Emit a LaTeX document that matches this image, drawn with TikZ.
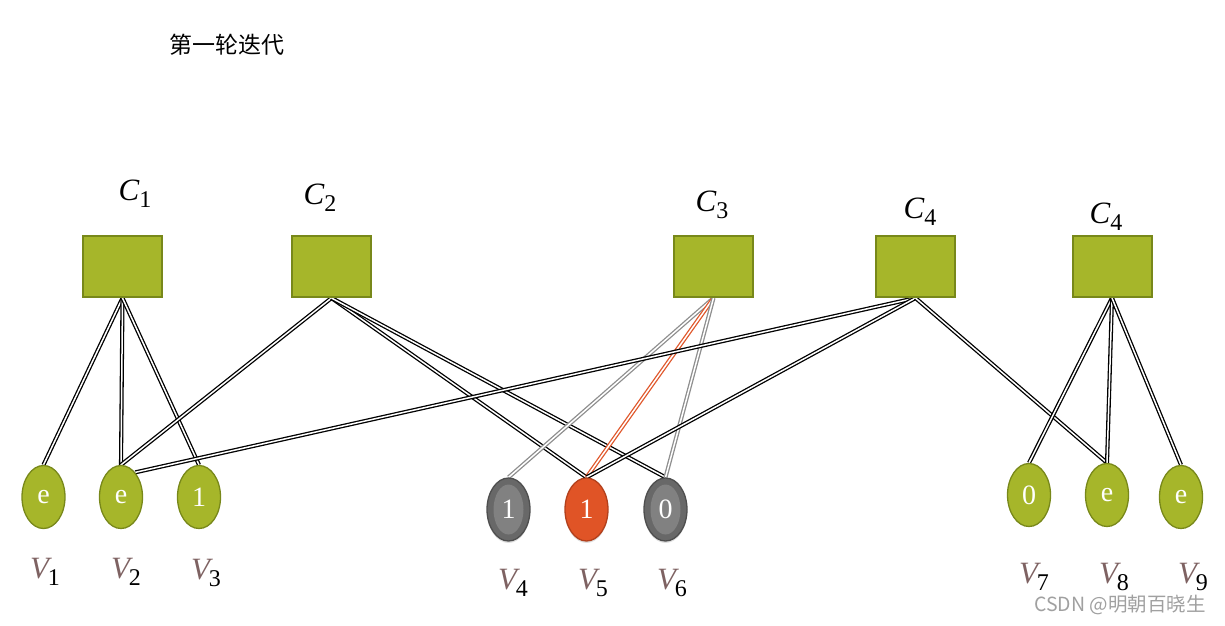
\documentclass[tikz,border=0pt]{standalone}
\usepackage{fontspec}
\setmainfont{Liberation Serif}
\newfontfamily\cjk{Noto Sans CJK SC}
\usetikzlibrary{shapes.geometric,backgrounds,shadows}
\definecolor{grn}{HTML}{A6B62A}
\definecolor{grnb}{HTML}{78881A}
\definecolor{gout}{HTML}{686868}
\definecolor{gin}{HTML}{818181}
\definecolor{gbd}{HTML}{4E4E4E}
\definecolor{rednode}{HTML}{E05426}
\definecolor{redbd}{HTML}{B2401C}
\definecolor{vcol}{HTML}{7E6262}
\definecolor{lgray}{HTML}{8E8E8E}
\definecolor{lred}{HTML}{E0582C}
\definecolor{wm}{HTML}{A0A0A0}
\newcommand{\vlab}[1]{{\itshape\color{vcol}V}\kern-1pt\raisebox{-7pt}{\fontsize{24}{26}\selectfont #1}}
\newcommand{\clab}[1]{{\itshape C}\kern0pt\raisebox{-7pt}{\fontsize{24}{26}\selectfont #1}}
\begin{document}
\begin{tikzpicture}[x=1pt,y=-1pt,
  cbox/.style={draw=grnb, fill=grn, line width=2pt, minimum width=79pt, minimum height=61pt, inner sep=0pt},
  vnode/.style={ellipse, draw=grnb, fill=grn, line width=1.3pt, minimum width=43pt, minimum height=63pt, inner sep=0pt, text=white, font=\fontsize{28}{30}\selectfont},
  gnode/.style={vnode, draw=gbd, fill=gout, drop shadow={opacity=0.25, shadow xshift=0pt, shadow yshift=-2pt},
    path picture={\fill[gin] (path picture bounding box.center) ellipse (15pt and 25pt);}},
  rnode/.style={vnode, draw=redbd, fill=rednode, drop shadow={opacity=0.25, shadow xshift=0pt, shadow yshift=-2pt}},
  clabel/.style={inner sep=0pt, font=\fontsize{31}{33}\selectfont},
  vlabel/.style={inner sep=0pt, font=\fontsize{31}{33}\selectfont},
  link/.style={draw=black, double=white, line width=1.3pt, double distance=1.5pt},
  glink/.style={link, draw=lgray},
  rlink/.style={link, draw=lred}]
\useasboundingbox (0,0) rectangle (1225,625);

\node[inner sep=0pt, font=\cjk\fontsize{23}{25}\selectfont] (title) at (227,45) {第一轮迭代};

% check nodes
\node[cbox] (C1) at (122.5,266.5) {};
\node[cbox] (C2) at (331.5,266.5) {};
\node[cbox] (C3) at (713.5,266.5) {};
\node[cbox] (C4) at (915.5,266.5) {};
\node[cbox] (C5) at (1112,266.5) {};

\node[clabel] (LC1) at (135,194) {\clab{1}};
\node[clabel] (LC2) at (320,198) {\clab{2}};
\node[clabel] (LC3) at (712,205) {\clab{3}};
\node[clabel] (LC4) at (920,212) {\clab{4}};
\node[clabel] (LC5) at (1106,217) {\clab{4}};

% variable nodes
\node[vnode] (V1) at (43.5,497) {e};
\node[vnode] (V2) at (121,497) {e};
\node[vnode] (V3) at (199,497) {1};
\node[gnode] (V4) at (508.5,509.5) {1};
\node[rnode] (V5) at (586.5,509.5) {1};
\node[gnode] (V6) at (665.5,509.5) {0};
\node[vnode] (V7) at (1029,495) {0};
\node[vnode] (V8) at (1107,495) {e};
\node[vnode] (V9) at (1181,497) {e};

\node[vlabel] (LV1) at (45,572) {\vlab{1}};
\node[vlabel] (LV2) at (126,572) {\vlab{2}};
\node[vlabel] (LV3) at (206,573) {\vlab{3}};
\node[vlabel] (LV4) at (513,583) {\vlab{4}};
\node[vlabel] (LV5) at (593,583) {\vlab{5}};
\node[vlabel] (LV6) at (672,583) {\vlab{6}};
\node[vlabel] (LV7) at (1034,577) {\vlab{7}};
\node[vlabel] (LV8) at (1114,577) {\vlab{8}};
\node[vlabel] (LV9) at (1193,577) {\vlab{9}};

\node[inner sep=0pt, text=wm, font=\cjk\fontsize{19.5}{21}\selectfont] (wmark) at (1120,605) {CSDN @明朝百晓生};

\begin{scope}[on background layer]
\draw[link] (C1.south) -- (V1.north);
\draw[link] (C1.south) -- (V2.north);
\draw[link] (C1.south) -- (V3.north);
\draw[link] (C2.south) -- (V2.north);
\draw[link] (C2.south) -- (V5.north);
\draw[link] (C2.south) -- (V6.north);
\draw[glink] (C3.south) -- (V4.north);
\draw[rlink] (C3.south) -- (V5.north);
\draw[glink] (C3.south) -- (V6.north);
\draw[link] (C4.south) -- (V2.60);
\draw[link] (C4.south) -- (V5.north);
\draw[link] (C4.south) -- (V8.north);
\draw[link] (C5.south) -- (V7.north);
\draw[link] (C5.south) -- (V8.north);
\draw[link] (C5.south) -- (V9.north);
\end{scope}
\end{tikzpicture}
\end{document}
